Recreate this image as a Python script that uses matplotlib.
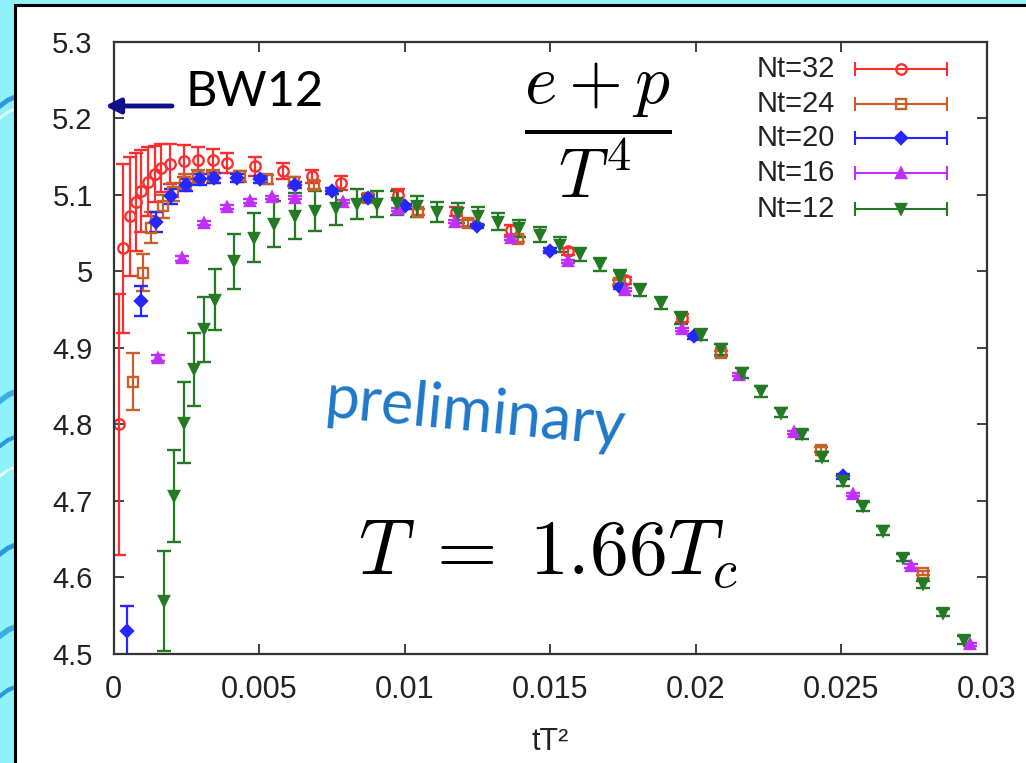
import matplotlib
matplotlib.use("Agg")
import matplotlib.pyplot as plt
from matplotlib.patches import Rectangle
from matplotlib.lines import Line2D

# ---- data: energy+pressure over T^4 vs flow time tT^2 at T = 1.66 Tc ----
labels = ["Nt=32", "Nt=24", "Nt=20", "Nt=16", "Nt=12"]

x32 = [0.00019, 0.00033, 0.00056, 0.00079, 0.00096, 0.00119, 0.00141, 0.00163,
       0.00194, 0.00243, 0.00291, 0.00341, 0.00389, 0.00487, 0.00582, 0.00683,
       0.00781, 0.00976, 0.01177, 0.01367, 0.01562, 0.01759, 0.01954]
y32 = [4.800, 5.030, 5.072, 5.091, 5.105, 5.117, 5.127, 5.135,
       5.140, 5.144, 5.145, 5.145, 5.141, 5.137, 5.131, 5.124,
       5.115, 5.100, 5.078, 5.054, 5.026, 4.988, 4.939]
e32 = [0.170, 0.110, 0.078, 0.064, 0.054, 0.045, 0.037, 0.031,
       0.026, 0.021, 0.018, 0.015, 0.013, 0.012, 0.010, 0.009,
       0.009, 0.007, 0.006, 0.006, 0.005, 0.005, 0.005]

x24 = [0.00067, 0.00102, 0.00130, 0.00171, 0.00205, 0.00245, 0.00291, 0.00343,
       0.00435, 0.00527, 0.00620, 0.00689, 0.00873, 0.01045, 0.01218, 0.01390,
       0.01736, 0.02086, 0.02431, 0.02782]
y24 = [4.856, 4.998, 5.057, 5.085, 5.104, 5.117, 5.124, 5.124,
       5.124, 5.120, 5.117, 5.113, 5.096, 5.078, 5.063, 5.042,
       4.985, 4.893, 4.767, 4.606]
e24 = [0.037, 0.024, 0.020, 0.015, 0.012, 0.010, 0.009, 0.008,
       0.007, 0.006, 0.006, 0.005, 0.005, 0.004, 0.004, 0.004,
       0.003, 0.003, 0.003, 0.003]

x20 = [0.00046, 0.00096, 0.00147, 0.00199, 0.00248, 0.00297, 0.00346, 0.00423,
       0.00502, 0.00625, 0.00752, 0.00873, 0.01000, 0.01250, 0.01500, 0.01741,
       0.01994, 0.02506]
y20 = [4.530, 4.961, 5.065, 5.098, 5.113, 5.120, 5.122, 5.122,
       5.120, 5.113, 5.105, 5.096, 5.085, 5.059, 5.027, 4.980,
       4.915, 4.732]
e20 = [0.033, 0.020, 0.013, 0.010, 0.008, 0.007, 0.006, 0.005,
       0.005, 0.004, 0.004, 0.004, 0.003, 0.003, 0.003, 0.003,
       0.003, 0.003]

x16 = [0.00153, 0.00234, 0.00311, 0.00389, 0.00469, 0.00544, 0.00625, 0.00787,
       0.00976, 0.01172, 0.01367, 0.01562, 0.01759, 0.01954, 0.02150, 0.02339,
       0.02540, 0.02741, 0.02943]
y16 = [4.887, 5.017, 5.063, 5.084, 5.092, 5.097, 5.096, 5.091,
       5.081, 5.065, 5.043, 5.013, 4.976, 4.924, 4.865, 4.790,
       4.709, 4.615, 4.513]
e16 = [0.004, 0.003, 0.003, 0.003, 0.003, 0.002, 0.002, 0.002,
       0.002, 0.002, 0.002, 0.002, 0.002, 0.002, 0.002, 0.002,
       0.002, 0.002, 0.002]

x12 = [0.00174, 0.00208, 0.00243, 0.00277, 0.00312, 0.00349,
       0.00415, 0.00484, 0.00553, 0.00625, 0.00691, 0.00764, 0.00836, 0.00907,
       0.00974, 0.01043, 0.01112, 0.01183, 0.01254, 0.01323, 0.01395,
       0.01465, 0.01534, 0.01603, 0.01672, 0.01741, 0.01810, 0.01882, 0.01951,
       0.02020, 0.02089,
       0.02161, 0.02226, 0.02293, 0.02366, 0.02434, 0.02506, 0.02575, 0.02644,
       0.02713, 0.02782, 0.02851, 0.02923]
y12 = [4.569, 4.706, 4.802, 4.872, 4.924, 4.963,
       5.013, 5.044, 5.062, 5.072, 5.079, 5.083, 5.088, 5.088,
       5.089, 5.085, 5.078, 5.076, 5.072, 5.065, 5.056,
       5.048, 5.035, 5.022, 5.009, 4.993, 4.976, 4.959, 4.939,
       4.917, 4.898,
       4.867, 4.843, 4.815, 4.787, 4.758, 4.726, 4.693, 4.661,
       4.626, 4.591, 4.554, 4.518]
e12 = [0.065, 0.060, 0.053, 0.048, 0.043, 0.040,
       0.036, 0.032, 0.030, 0.030, 0.026, 0.022, 0.019, 0.017,
       0.016, 0.014, 0.013, 0.013, 0.012, 0.011, 0.011,
       0.010, 0.010, 0.009, 0.009, 0.009, 0.008, 0.008, 0.008,
       0.007, 0.007,
       0.007, 0.007, 0.006, 0.006, 0.006, 0.006, 0.006, 0.006,
       0.005, 0.005, 0.005, 0.005]

xticks = [0, 0.005, 0.01, 0.015, 0.02, 0.025, 0.03]
xticklabels = ["0", "0.005", "0.01", "0.015", "0.02", "0.025", "0.03"]
yticks = [4.5, 4.6, 4.7, 4.8, 4.9, 5.0, 5.1, 5.2, 5.3]
yticklabels = ["4.5", "4.6", "4.7", "4.8", "4.9", "5", "5.1", "5.2", "5.3"]

bw12_value = 5.216

# ---- styling ----
series = [
    (x32, y32, e32, "#ff2e2e", "o", "none"),
    (x24, y24, e24, "#c9602a", "s", "none"),
    (x20, y20, e20, "#2626ff", "D", "full"),
    (x16, y16, e16, "#c030f8", "^", "full"),
    (x12, y12, e12, "#237a23", "v", "full"),
]

plt.rcParams["font.family"] = ["Liberation Sans", "DejaVu Sans"]

W, H = 1026, 763
fig = plt.figure(figsize=(W / 100, H / 100), dpi=100)
fig.patch.set_facecolor("#8ff1f9")

# slide-like backdrop: white panel with a black frame, wavy blue strip on the left
def px(x, y):
    return x / W, 1 - y / H

for yc, col, lw in [(100, "#2a98da", 3.5), (112, "#e8fbff", 2), (395, "#3aaee2", 4),
                    (440, "#2a98da", 3), (470, "#e8fbff", 2), (548, "#2a98da", 3.5),
                    (630, "#3aaee2", 4), (690, "#2a98da", 3)]:
    pts = [px(0, yc + 6), px(8, yc), px(20, yc - 5)]
    fig.add_artist(Line2D([p[0] for p in pts], [p[1] for p in pts], color=col,
                          lw=lw, transform=fig.transFigure, zorder=-3))

panel = Rectangle(px(15, H + 20), 1.2, (H + 20 - 5) / H, transform=fig.transFigure,
                  facecolor="white", edgecolor="black", lw=2.2, zorder=-2)
fig.add_artist(panel)

x0, x1, y0, y1 = 113.5, 986.5, 41.7, 654.0
ax = fig.add_axes([x0 / W, 1 - y1 / H, (x1 - x0) / W, (y1 - y0) / H])
ax.set_facecolor("white")
ax.set_xlim(0, 0.03)
ax.set_ylim(4.5, 5.3)

for xs, ys, es, c, m, fill in series:
    ax.errorbar(xs, ys, yerr=es, fmt=m, color=c, ecolor=c, elinewidth=1.6,
                capsize=5, capthick=1.6, markersize=7.5 if m != "D" else 6,
                markerfacecolor=(c if fill == "full" else "none"),
                markeredgecolor=c, markeredgewidth=1.7, clip_on=True)

ax.set_xticks(xticks)
ax.set_xticklabels(xticklabels)
ax.set_yticks(yticks)
ax.set_yticklabels(yticklabels)
ax.tick_params(direction="in", length=7, width=1.3, color="#333333",
               top=True, right=True, labelcolor="#222222")
ax.tick_params(axis="y", pad=15, labelsize=21)
ax.tick_params(axis="x", pad=15, labelsize=22)
for s in ax.spines.values():
    s.set_color("#333333")
    s.set_linewidth(1.6)

ax.set_xlabel("tT²", fontsize=22, color="#222222", labelpad=16)

# key in the upper right, gnuplot style
key_y = [0.955, 0.899, 0.842, 0.785, 0.726]
for (xs, ys, es, c, m, fill), lab, ky in zip(series, labels, key_y):
    ax.text(0.8265, ky, lab, transform=ax.transAxes, ha="right", va="center",
            fontsize=21, color="#222222")
    ax.plot([0.849, 0.955], [ky, ky], color=c, lw=1.5, transform=ax.transAxes,
            clip_on=False)
    ax.plot([0.849, 0.955], [ky, ky], color=c, ls="none", marker="|", ms=10,
            mew=1.5, transform=ax.transAxes, clip_on=False)
    ax.plot([0.902], [ky], color=c, ls="none", marker=m,
            ms=7.5 if m != "D" else 6, mfc=(c if fill == "full" else "none"),
            mec=c, mew=1.7, transform=ax.transAxes, clip_on=False)

# reference value marker
ax.annotate("", xy=(-0.00029, bw12_value), xytext=(0.00201, bw12_value),
            arrowprops=dict(arrowstyle="-|>", color="#10108a", lw=3.5,
                            mutation_scale=22, shrinkA=0, shrinkB=0),
            annotation_clip=False)
ax.text(0.082, 0.918, "BW12", transform=ax.transAxes, ha="left", va="center",
        fontsize=35, family=["Lato", "DejaVu Sans"], color="black")

ax.text(0.555, 0.855, r"$\dfrac{e+p}{T^4}$", transform=ax.transAxes,
        ha="center", va="center", fontsize=50, math_fontfamily="cm")
ax.text(0.498, 0.129, r"$T\;=\;1.66T_c$", transform=ax.transAxes,
        ha="center", va="baseline", fontsize=56, math_fontfamily="cm")
ax.text(0.415, 0.392, "preliminary", transform=ax.transAxes, ha="center",
        va="center", rotation=-5.5, rotation_mode="anchor", fontsize=44,
        family=["Lato", "DejaVu Sans"], color="#1f78c8")

fig.savefig("out.png", dpi=100, facecolor=fig.get_facecolor())
